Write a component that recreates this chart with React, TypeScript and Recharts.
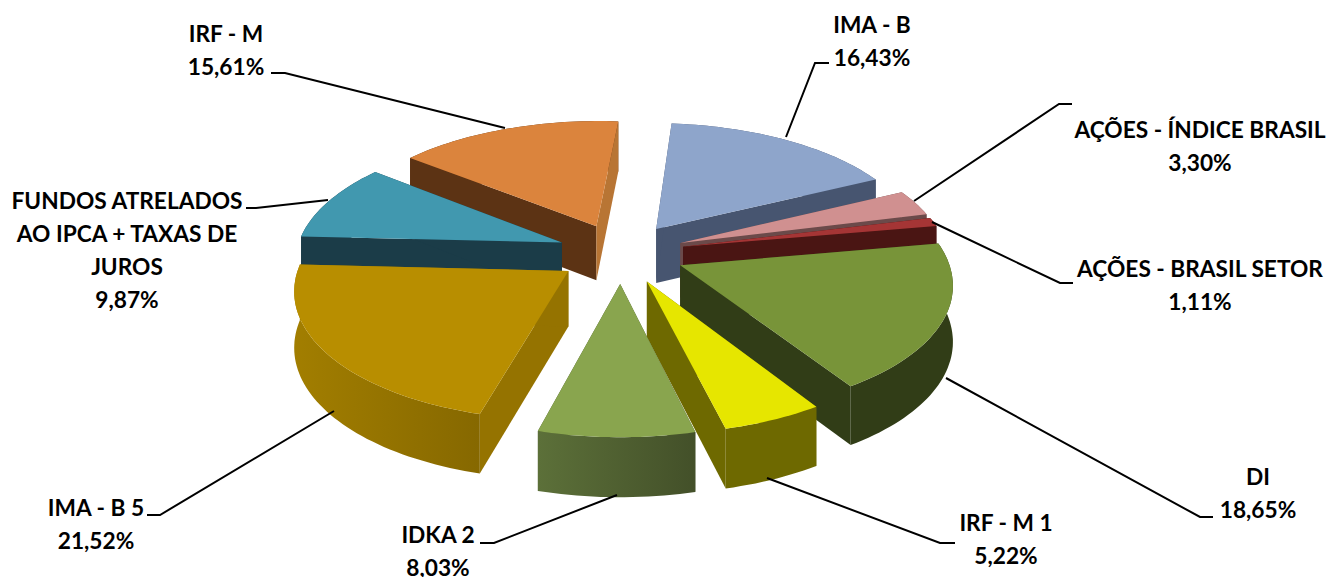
import React from "react";
import { PieChart, Pie } from "recharts";

// ---- data (clockwise from the top of the pie) ----
const rightNames = ["IMA - B", "AÇÕES - ÍNDICE BRASIL", "AÇÕES - BRASIL SETOR", "DI", "IRF - M 1"];
const rightValues = [16.43, 3.3, 1.11, 18.65, 5.22];
// drawn back to front, counter-clockwise from the top of the pie
const leftNames = ["IRF - M", "FUNDOS ATRELADOS AO IPCA + TAXAS DE JUROS", "IMA - B 5", "IDKA 2"];
const leftValues = [15.61, 9.87, 21.52, 8.03];

const labelLines: Record<string, string[]> = {
  "FUNDOS ATRELADOS AO IPCA + TAXAS DE JUROS": ["FUNDOS ATRELADOS", "AO IPCA + TAXAS DE", "JUROS"],
};

// ---- presentation ----
const W = 1330;
const H = 577;
const CX = 621;
const CY = 253;
const RX = 266;
const SQUASH = 125 / 266;
const PERSPECTIVE = 0.128;
const EXPLODE = 0.24;
const START = 85.2;

type Look = { top: string; faceStart: string; faceEnd: string; arcA: string; arcB: string };
const looks: Record<string, Look> = {
  "IMA - B": { top: "#8EA5CB", faceStart: "#475570", faceEnd: "#475570", arcA: "#475570", arcB: "#475570" },
  "AÇÕES - ÍNDICE BRASIL": { top: "#D09090", faceStart: "#6B4A4A", faceEnd: "#6B4A4A", arcA: "#6B4A4A", arcB: "#6B4A4A" },
  "AÇÕES - BRASIL SETOR": { top: "#A53535", faceStart: "#4A1513", faceEnd: "#4A1513", arcA: "#4A1513", arcB: "#4A1513" },
  DI: { top: "#789439", faceStart: "#313D17", faceEnd: "#313D17", arcA: "#313D17", arcB: "#313D17" },
  "IRF - M 1": { top: "#E6E600", faceStart: "#6E6900", faceEnd: "#6E6900", arcA: "#6E6900", arcB: "#6E6900" },
  "IDKA 2": { top: "#89A54E", faceStart: "#46552B", faceEnd: "#46552B", arcA: "#5C7039", arcB: "#435029" },
  "IMA - B 5": { top: "#B88E00", faceStart: "#957300", faceEnd: "#957300", arcA: "#A27E00", arcB: "#866800" },
  "FUNDOS ATRELADOS AO IPCA + TAXAS DE JUROS": { top: "#4198AF", faceStart: "#1B3C48", faceEnd: "#1B3C48", arcA: "#1B3C48", arcB: "#1B3C48" },
  "IRF - M": { top: "#DB843D", faceStart: "#5C3314", faceEnd: "#B87534", arcA: "#5C3314", arcB: "#5C3314" },
};

type Callout = { tx: number; ty: number; path: [number, number][] };
const callouts: Record<string, Callout> = {
  "IMA - B": { tx: 872, ty: 33, path: [[786, 137], [815, 63], [829, 63]] },
  "AÇÕES - ÍNDICE BRASIL": { tx: 1200, ty: 138, path: [[914, 201], [1059, 104], [1072, 104]] },
  "AÇÕES - BRASIL SETOR": { tx: 1200, ty: 277, path: [[932, 222], [1060, 283], [1073, 283]] },
  DI: { tx: 1258, ty: 485, path: [[946, 378], [1200, 517], [1213, 517]] },
  "IRF - M 1": { tx: 1006, ty: 531, path: [[767, 478], [940, 543], [955, 543]] },
  "IDKA 2": { tx: 438, ty: 543, path: [[617, 495], [494, 543], [480, 543]] },
  "IMA - B 5": { tx: 96, ty: 516, path: [[334, 411], [160, 515], [147, 515]] },
  "FUNDOS ATRELADOS AO IPCA + TAXAS DE JUROS": { tx: 127, ty: 209, path: [[328, 200], [256, 208], [246, 208]] },
  "IRF - M": { tx: 226, ty: 42, path: [[505, 128], [285, 73], [271, 73]] },
};

const rightData = rightNames.map((name, i) => ({ name, value: rightValues[i] }));
const leftData = leftNames.map((name, i) => ({ name, value: leftValues[i] }));
const sum = (a: number[]) => a.reduce((s, v) => s + v, 0);
const total = sum(rightValues) + sum(leftValues);
const rightEnd = START - (360 * sum(rightValues)) / total;
const leftEnd = START + (360 * sum(leftValues)) / total;

const rad = (d: number) => (d * Math.PI) / 180;

function Slice3D(props: any) {
  const { cx, cy, outerRadius, startAngle, endAngle, name, index } = props;
  const rx = outerRadius;
  const ry = outerRadius * SQUASH;
  const look = looks[name];
  const hi = Math.max(startAngle, endAngle); // clockwise start edge
  const lo = Math.min(startAngle, endAngle); // clockwise end edge
  const mid = rad((hi + lo) / 2);
  const ox = EXPLODE * Math.cos(mid);
  const oy = -EXPLODE * Math.sin(mid);

  const project = (X: number, Y: number, lower: boolean): [number, number] => {
    const w = 1 / (1 - PERSPECTIVE * Y);
    return [cx + rx * X * w, cy + ry * Y * w + (lower ? 55 + 4 * Y : 0)];
  };
  const at = (deg: number, r: number, lower: boolean) =>
    project(ox + r * Math.cos(rad(deg)), oy - r * Math.sin(rad(deg)), lower);

  const steps = Math.max(4, Math.ceil((hi - lo) / 1.5));
  const degs = Array.from({ length: steps + 1 }, (_, i) => hi - ((hi - lo) * i) / steps);
  const topArc = degs.map((d) => at(d, 1, false));
  const lowArc = degs.map((d) => at(d, 1, true));
  const apex = at(hi, 0, false);
  const apexLow = at(hi, 0, true);
  const poly = (pts: [number, number][]) =>
    "M" + pts.map((p) => `${p[0].toFixed(1)},${p[1].toFixed(1)}`).join("L") + "Z";

  const xs = topArc.map((p) => p[0]);
  const gradId = `arc-${name.replace(/[^A-Z0-9]/g, "")}-${index}`;
  const startFace = <path d={poly([apex, topArc[0], lowArc[0], apexLow])} fill={look.faceStart} />;
  const endFace = <path d={poly([apex, topArc[steps], lowArc[steps], apexLow])} fill={look.faceEnd} />;
  // a cut edge pointing to the back of the pie sits in front of the slice's own rim
  const startBack = Math.sin(rad(hi)) > 0.5;
  const endBack = Math.sin(rad(lo)) > 0.5;
  return (
    <g>
      <defs>
        <linearGradient id={gradId} gradientUnits="userSpaceOnUse" x1={Math.min(...xs)} x2={Math.max(...xs)} y1={0} y2={0}>
          <stop offset="0%" stopColor={look.arcA} />
          <stop offset="100%" stopColor={look.arcB} />
        </linearGradient>
      </defs>
      {!startBack && startFace}
      {!endBack && endFace}
      <path d={poly([...topArc, ...[...lowArc].reverse()])} fill={`url(#${gradId})`} />
      {startBack && startFace}
      {endBack && endFace}
      <path d={poly([apex, ...topArc])} fill={look.top} />
    </g>
  );
}

function CalloutLabel(props: any) {
  const { name, value } = props;
  const c = callouts[name];
  const lines = [...(labelLines[name] ?? [name]), `${Number(value).toFixed(2).replace(".", ",")}%`];
  return (
    <g>
      <polyline points={c.path.map((p) => p.join(",")).join(" ")} fill="none" stroke="#000" strokeWidth={2} />
      {lines.map((t, i) => (
        <text
          key={i}
          x={c.tx}
          y={c.ty + i * 33}
          textAnchor="middle"
          fontFamily="Lato, 'Open Sans', sans-serif"
          fontWeight={700}
          fontSize={22.7}
          fill="#000"
        >
          {t}
        </text>
      ))}
    </g>
  );
}

export default function App() {
  return (
    <div style={{ position: "absolute", left: 0, top: 0, width: W, height: H, background: "#fff" }}>
      <PieChart width={W} height={H} margin={{ top: 0, right: 0, bottom: 0, left: 0 }}>
        <Pie
          data={rightData}
          dataKey="value"
          nameKey="name"
          cx={CX}
          cy={CY}
          innerRadius={0}
          outerRadius={RX}
          startAngle={START}
          endAngle={rightEnd}
          paddingAngle={0}
          stroke="none"
          isAnimationActive={false}
          shape={Slice3D}
          label={CalloutLabel}
          labelLine={false}
        />
        <Pie
          data={leftData}
          dataKey="value"
          nameKey="name"
          cx={CX}
          cy={CY}
          innerRadius={0}
          outerRadius={RX}
          startAngle={START}
          endAngle={leftEnd}
          paddingAngle={0}
          stroke="none"
          isAnimationActive={false}
          shape={Slice3D}
          label={CalloutLabel}
          labelLine={false}
        />
      </PieChart>
    </div>
  );
}
